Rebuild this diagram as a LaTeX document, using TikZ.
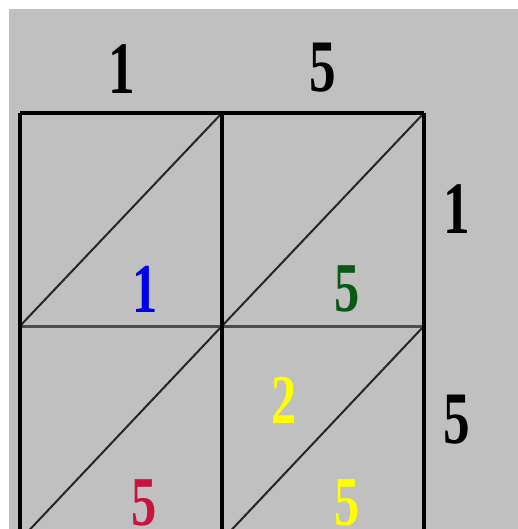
\documentclass[tikz,border=0pt]{standalone}
\usepackage{fontspec}
\setmainfont{Liberation Serif}
\definecolor{bgray}{RGB}{192,192,192}
\definecolor{dgreen}{RGB}{10,90,20}
\definecolor{crim}{RGB}{200,20,60}
\definecolor{yel}{RGB}{255,255,0}
\definecolor{dblue}{RGB}{0,0,235}
\tikzset{
  big/.style={inner sep=0pt, font=\fontsize{74}{74}\selectfont\bfseries, xscale=0.72},
  cell/.style={inner sep=0pt, font=\fontsize{70}{70}\selectfont\bfseries, xscale=0.72},
  gridline/.style={black, line width=4pt},
  diag/.style={black!85, line width=2pt},
}
\begin{document}
\begin{tikzpicture}[x=1pt,y=-1pt]
\useasboundingbox (0,0) rectangle (518,529);
\fill[white] (0,0) rectangle (518,529);
\fill[bgray] (9,9) rectangle (518,529);
\begin{scope}
\clip (9,9) rectangle (518,529);
% coordinates
\coordinate (tl) at (20,113);
\coordinate (tm) at (222,113);
\coordinate (tr) at (424,113);
\coordinate (ml) at (20,326);
\coordinate (mm) at (222,326);
\coordinate (mr) at (424,326);
\coordinate (bl) at (20,540);
\coordinate (bm) at (222,540);
\coordinate (br) at (424,540);
% diagonals
\draw[diag] (ml) -- (tm);
\draw[diag] (mm) -- (tr);
\draw[diag] (bl) -- (mm);
\draw[diag] (bm) -- (mr);
% grid
\draw[black!70, line width=3pt] (ml) -- (mr);
\draw[gridline] (tl) -- (tr);
\draw[gridline] (tl) -- (bl);
\draw[gridline] (tm) -- (bm);
\draw[gridline] (tr) -- (br);
% products
\node[cell, text=crim] (p21) at (144,503) {5};
\node[cell, text=yel] (p22) at (347,503) {5};
\end{scope}
% labels
\node[big] (c1) at (122,69) {1};
\node[big] (c2) at (323,68) {5};
\node[big] (r1) at (457,209) {1};
\node[big] (r2) at (457,420) {5};
% products
\node[cell, text=dblue] (p11) at (145,289) {1};
\node[cell, text=dgreen] (p12) at (347,289) {5};
\node[cell, text=yel] (p21a) at (284,400) {2};
\end{tikzpicture}
\end{document}
